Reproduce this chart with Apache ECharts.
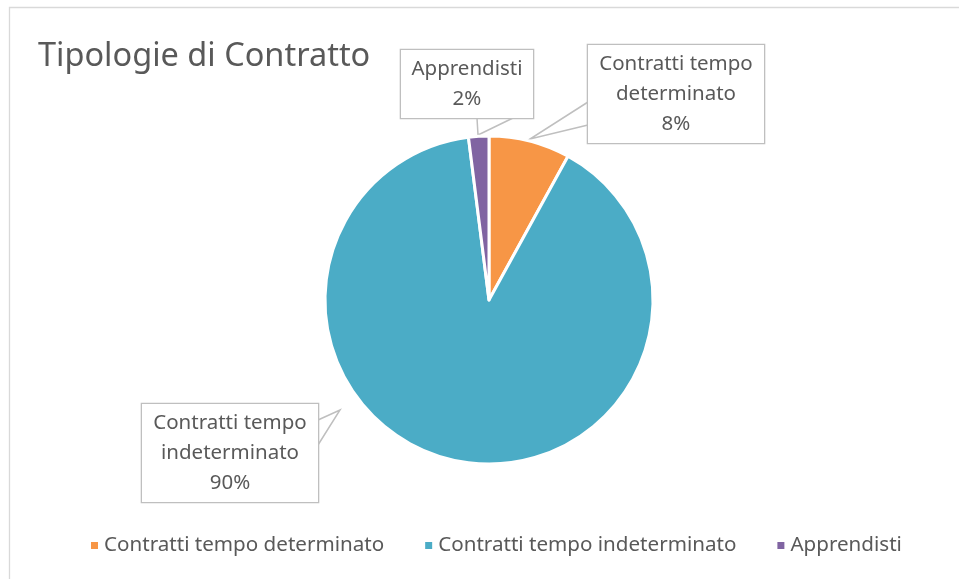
<!DOCTYPE html>
<html>
<head>
<meta charset="utf-8">
<script src="https://cdn.jsdelivr.net/npm/echarts@6/dist/echarts.min.js"></script>
<style>
html, body { margin: 0; padding: 0; background: #fff; }
#myChart { width: 959px; height: 579px; }
</style>
</head>
<body>
<div id="myChart"></div>
<script>
// dati del grafico
const categories = ['Contratti tempo determinato', 'Contratti tempo indeterminato', 'Apprendisti'];
const values = [8, 90, 2];
const colors = ['#F79646', '#4BACC6', '#8064A2'];

// posizione dei riquadri etichetta (centro) e punte dei richiami
const callouts = [
    { x: 676, y: 94, w: 160, pts: [[588, 102], [530, 139], [588, 125]] },
    { x: 230, y: 453, w: 160, pts: [[318, 420], [340, 410], [318, 445]] },
    { x: 467, y: 84, w: 116, pts: [[477, 118], [478, 135], [513, 118]] }
];

const txt = '#595959';
const font = 'Noto Sans';

let myChart = echarts.init(document.getElementById('myChart'));

let option = {
    textStyle: { fontFamily: font },
    title: {
        text: 'Tipologie di Contratto',
        left: 33,
        top: 35,
        textStyle: { color: txt, fontSize: 32.5, fontWeight: 'normal', fontFamily: font }
    },
    legend: {
        bottom: 18,
        left: 84,
        icon: 'rect',
        itemWidth: 9,
        itemHeight: 9,
        itemGap: 39,
        textStyle: { color: txt, fontSize: 20.6, fontFamily: font },
        data: categories
    },
    graphic: [{
        type: 'rect',
        shape: { x: 9.5, y: 7.5, width: 1000, height: 700 },
        style: { fill: 'none', stroke: '#D9D9D9', lineWidth: 1.3 },
        silent: true,
        z: -1
    }],
    series: [{
        type: 'pie',
        center: [489, 300],
        radius: 164,
        startAngle: 90,
        clockwise: true,
        animation: false,
        itemStyle: { borderColor: '#fff', borderWidth: 3 },
        label: {
            show: true,
            color: txt,
            fontSize: 20.5,
            fontFamily: font,
            lineHeight: 30,
            align: 'center',
            backgroundColor: '#fff',
            borderColor: '#BFBFBF',
            borderWidth: 1.3,
            padding: [4, 8],
            formatter: function (p) {
                return p.name.replace('tempo ', 'tempo\n') + '\n' + Math.round(p.percent) + '%';
            }
        },
        labelLine: {
            show: true,
            lineStyle: { color: '#BFBFBF', width: 1.5 }
        },
        labelLayout: function (params) {
            let c = callouts[params.dataIndex];
            return {
                x: c.x,
                y: c.y,
                align: 'center',
                verticalAlign: 'middle',
                labelLinePoints: c.pts
            };
        },
        data: categories.map((name, i) => ({
            name: name,
            value: values[i],
            itemStyle: { color: colors[i] },
            label: { width: callouts[i].w }
        }))
    }]
};

myChart.setOption(option);
window.addEventListener('resize', () => {
    myChart.resize();
});
</script>
</body>
</html>
